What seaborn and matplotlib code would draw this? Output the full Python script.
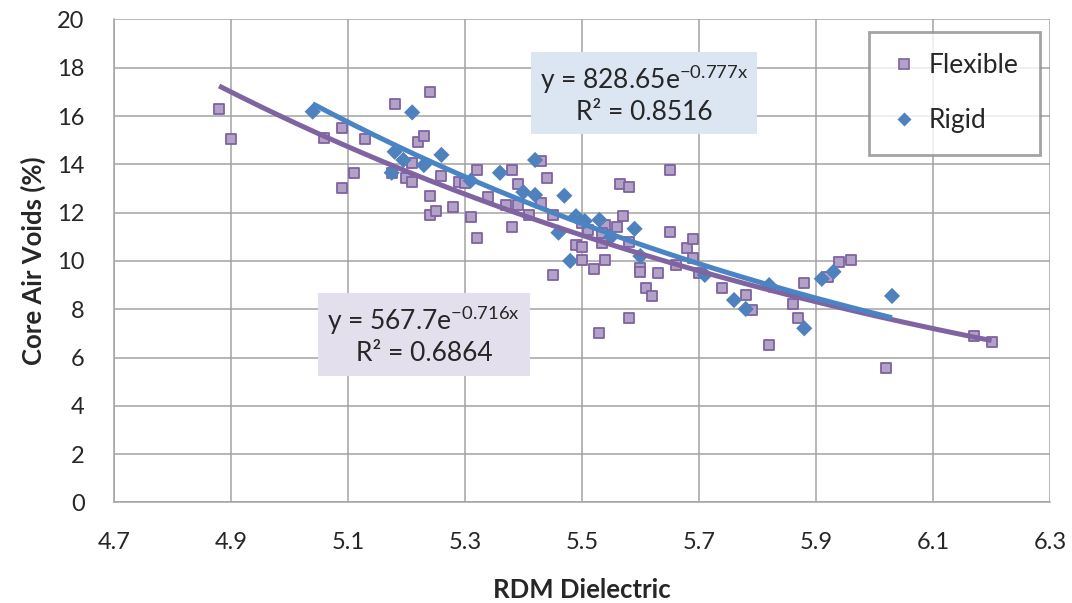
import numpy as np
import pandas as pd
import matplotlib
matplotlib.use("Agg")
import matplotlib.pyplot as plt
import seaborn as sns
from matplotlib.lines import Line2D

# Flexible pavement cores: RDM dielectric vs. core air voids (%)
flex_dielectric = [4.88, 4.90, 5.06, 5.09, 5.09, 5.11, 5.13, 5.18, 5.175, 5.20,
                   5.21, 5.21, 5.22, 5.23, 5.24, 5.24, 5.24, 5.25, 5.26, 5.28,
                   5.29, 5.30, 5.31, 5.32, 5.32, 5.34, 5.37, 5.38, 5.38, 5.39,
                   5.39, 5.41, 5.43, 5.43, 5.44, 5.45, 5.45, 5.49, 5.50, 5.50,
                   5.50, 5.51, 5.52, 5.53, 5.535, 5.54, 5.54, 5.535, 5.56, 5.57,
                   5.565, 5.58, 5.58, 5.58, 5.60, 5.60, 5.61, 5.62, 5.63, 5.65,
                   5.65, 5.66, 5.68, 5.69, 5.69, 5.70, 5.74, 5.78, 5.79, 5.82,
                   5.86, 5.87, 5.88, 5.92, 5.94, 5.96, 6.02, 6.17, 6.20]
flex_voids = [16.3, 15.05, 15.10, 15.52, 13.0, 13.65, 15.03, 16.5, 13.63, 13.42,
              14.04, 13.28, 14.91, 15.17, 16.98, 12.70, 11.90, 12.08, 13.53, 12.24,
              13.28, 13.21, 11.83, 13.76, 10.94, 12.66, 12.31, 13.76, 11.42, 13.17,
              12.31, 11.90, 14.14, 12.41, 13.42, 11.90, 9.42, 10.66, 10.59, 10.04,
              11.56, 11.28, 9.65, 7.0, 10.73, 10.04, 11.49, 11.14, 11.42, 11.86,
              13.20, 13.05, 10.80, 7.62, 9.69, 9.55, 8.87, 8.56, 9.49, 13.76,
              11.18, 9.83, 10.52, 10.89, 10.11, 9.49, 8.87, 8.59, 7.97, 6.52,
              8.21, 7.62, 9.07, 9.35, 9.97, 10.04, 5.55, 6.89, 6.64]

# Rigid pavement cores
rigid_dielectric = [5.04, 5.21, 5.18, 5.195, 5.175, 5.23, 5.26, 5.31, 5.36, 5.40,
                    5.42, 5.42, 5.47, 5.46, 5.49, 5.505, 5.53, 5.48, 5.55, 5.59,
                    5.60, 5.71, 5.76, 5.78, 5.82, 5.88, 5.91, 5.93, 6.03]
rigid_voids = [16.18, 16.15, 14.52, 14.18, 13.65, 13.97, 14.39, 13.32, 13.65, 12.85,
               12.73, 14.18, 12.70, 11.17, 11.85, 11.65, 11.70, 10.0, 11.0, 11.33,
               10.2, 9.42, 8.38, 8.01, 9.0, 7.21, 9.26, 9.55, 8.55]

# Exponential trendlines y = a * exp(b x) and their R^2
flex_fit = (567.7, -0.716, 0.6864)
rigid_fit = (828.65, -0.777, 0.8516)

series_names = ["Flexible", "Rigid"]
x_ticks = [4.7, 4.9, 5.1, 5.3, 5.5, 5.7, 5.9, 6.1, 6.3]
y_ticks = [0, 2, 4, 6, 8, 10, 12, 14, 16, 18, 20]

flex_df = pd.DataFrame({"dielectric": flex_dielectric, "voids": flex_voids})
rigid_df = pd.DataFrame({"dielectric": rigid_dielectric, "voids": rigid_voids})

sns.set_theme(style="white")
plt.rcParams["font.family"] = ["Lato", "DejaVu Sans"]
plt.rcParams["mathtext.fontset"] = "custom"
plt.rcParams["mathtext.rm"] = "Lato"
plt.rcParams["mathtext.it"] = "Lato"

TEXT = "#262626"
GRID = "#A3A3A3"
FLEX_FACE, FLEX_EDGE = "#B3A2C7", "#7E62A1"
RIGID = "#4F81BD"
FLEX_LINE, RIGID_LINE = "#8064A2", "#4A84C4"

fig = plt.figure(figsize=(10.72, 6.03), dpi=100)
ax = fig.add_axes([0.1061, 0.1668, 0.8734, 0.801])

sns.scatterplot(data=flex_df, x="dielectric", y="voids", ax=ax, marker="s",
                s=55, color=FLEX_FACE, edgecolor=FLEX_EDGE, linewidth=1.3, zorder=3)
sns.scatterplot(data=rigid_df, x="dielectric", y="voids", ax=ax, marker="D",
                s=68, color=RIGID, edgecolor="none", linewidth=0, zorder=4)

# Trendlines drawn from the fitted equations over each series' range
for (a, b, _), xs, col in [(flex_fit, flex_dielectric, FLEX_LINE),
                            (rigid_fit, rigid_dielectric, RIGID_LINE)]:
    xx = np.linspace(min(xs), max(xs), 200)
    trend = pd.DataFrame({"x": xx, "y": a * np.exp(b * xx)})
    sns.lineplot(data=trend, x="x", y="y", ax=ax, color=col, linewidth=3.6,
                 zorder=5, solid_capstyle="butt")

ax.set_xlim(4.7, 6.3)
ax.set_ylim(0, 20)
ax.set_xticks(x_ticks)
ax.set_xticklabels([f"{v:.1f}" for v in x_ticks])
ax.set_yticks(y_ticks)
ax.grid(True, color=GRID, linewidth=1.1)
ax.set_axisbelow(True)
for side in ["top", "right"]:
    ax.spines[side].set_visible(False)
for side in ["left", "bottom"]:
    ax.spines[side].set_color(GRID)
    ax.spines[side].set_linewidth(1.1)
ax.tick_params(axis="both", direction="out", length=7, width=1.1, color=GRID,
               labelsize=17, labelcolor=TEXT)
ax.tick_params(axis="x", pad=14)
ax.tick_params(axis="y", pad=14)

ax.set_xlabel("RDM Dielectric", fontsize=18.5, fontweight="bold", color=TEXT, labelpad=18)
ax.set_ylabel("Core Air Voids (%)", fontsize=18.5, fontweight="bold", color=TEXT, labelpad=8)

def eq_label(fit):
    a, b, r2 = fit
    return f"y = {a:g}e$^{{\\mathregular{{{b:.3f}x}}}}$\nR² = {r2:.4f}"

ax.text(5.606, 16.9, eq_label(rigid_fit), ha="center", va="center",
        fontsize=19, color=TEXT, linespacing=1.2, zorder=6,
        bbox=dict(boxstyle="square,pad=0.35", fc="#DCE6F2", ec="none"))
ax.text(5.230, 6.91, eq_label(flex_fit), ha="center", va="center",
        fontsize=19, color=TEXT, linespacing=1.2, zorder=6,
        bbox=dict(boxstyle="square,pad=0.35", fc="#E4DFEC", ec="none"))

handles = [
    Line2D([], [], linestyle="none", marker="s", markersize=7,
           markerfacecolor=FLEX_FACE, markeredgecolor=FLEX_EDGE, markeredgewidth=1.2),
    Line2D([], [], linestyle="none", marker="D", markersize=7,
           markerfacecolor=RIGID, markeredgecolor="none"),
]
leg = ax.legend(handles, series_names, loc="upper right",
                bbox_to_anchor=(0.989, 0.974), borderaxespad=0, fontsize=19,
                frameon=True, fancybox=False, borderpad=0.8, labelspacing=1.15,
                handlelength=1.0, handletextpad=0.45)
leg.get_frame().set_edgecolor("#8C8C8C")
leg.get_frame().set_linewidth(2)
leg.get_frame().set_facecolor("white")
leg.set_zorder(7)
for t in leg.get_texts():
    t.set_color(TEXT)

fig.savefig("out.png", dpi=100)
